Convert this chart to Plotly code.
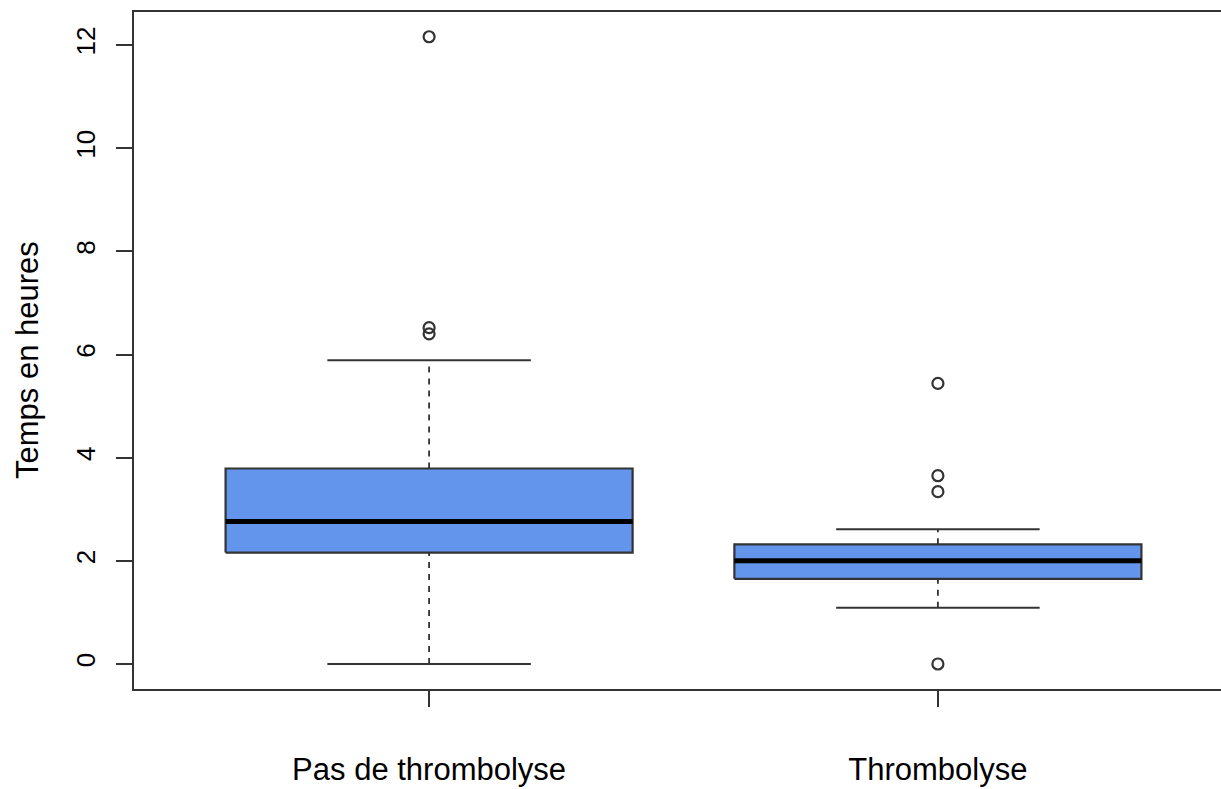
import plotly.graph_objects as go

# Summary statistics per group (hours)
groups = ["Pas de thrombolyse", "Thrombolyse"]
positions = [1, 2]
lower_whisker = [0.0, 1.09]
q1 = [2.16, 1.65]
median = [2.76, 2.0]
q3 = [3.79, 2.32]
upper_whisker = [5.89, 2.61]
outliers = [
    [6.40, 6.52, 12.16],
    [0.0, 3.34, 3.65, 5.44],
]

y_ticks = [0, 2, 4, 6, 8, 10, 12]

BOX_HALF = 0.4      # half box width in category units
CAP_HALF = 0.2      # half whisker cap width
FILL = "#6495ED"
EDGE = "#333333"
FONT = "Liberation Sans, Arial, sans-serif"

fig = go.Figure()

for i, pos in enumerate(positions):
    # dashed whiskers
    for a, b in ((q3[i], upper_whisker[i]), (lower_whisker[i], q1[i])):
        fig.add_trace(go.Scatter(
            x=[pos, pos], y=[a, b], mode="lines",
            line=dict(color=EDGE, width=1.8, dash="6px,6px"),
            hoverinfo="skip", showlegend=False))
    # whisker caps
    for w in (upper_whisker[i], lower_whisker[i]):
        fig.add_trace(go.Scatter(
            x=[pos - CAP_HALF, pos + CAP_HALF], y=[w, w], mode="lines",
            line=dict(color=EDGE, width=2),
            hoverinfo="skip", showlegend=False))
    # box body
    fig.add_trace(go.Scatter(
        x=[pos - BOX_HALF, pos + BOX_HALF, pos + BOX_HALF, pos - BOX_HALF, pos - BOX_HALF],
        y=[q1[i], q1[i], q3[i], q3[i], q1[i]],
        mode="lines", fill="toself", fillcolor=FILL,
        line=dict(color=EDGE, width=2.2),
        hoverinfo="skip", showlegend=False))
    # median
    fig.add_trace(go.Scatter(
        x=[pos - BOX_HALF, pos + BOX_HALF], y=[median[i], median[i]], mode="lines",
        line=dict(color="black", width=5),
        hoverinfo="skip", showlegend=False))
    # outliers
    fig.add_trace(go.Scatter(
        x=[pos] * len(outliers[i]), y=outliers[i], mode="markers",
        marker=dict(symbol="circle-open", size=11, color=EDGE, line=dict(width=2.2)),
        hoverinfo="y", showlegend=False))

fig.update_layout(
    width=1221, height=789,
    margin=dict(l=134, r=0, t=12, b=100),
    paper_bgcolor="white", plot_bgcolor="white",
    font=dict(family=FONT, color="black"),
)

fig.update_xaxes(
    range=[0.42, 0.42 + 1087 / 508.8],
    tickvals=positions, ticktext=groups,
    ticks="outside", ticklen=16, tickwidth=2, tickcolor=EDGE,
    tickfont=dict(size=31, family=FONT, color="black"),
    ticklabelstandoff=36,
    showline=True, linecolor=EDGE, linewidth=2.2, mirror=True,
    showgrid=False, zeroline=False,
)

fig.update_yaxes(
    range=[-0.485, 12.64],
    tickvals=y_ticks, ticktext=[str(v) for v in y_ticks],
    tickangle=-90,
    ticks="outside", ticklen=16, tickwidth=2, tickcolor=EDGE,
    tickfont=dict(size=26, family=FONT, color="black"),
    ticklabelstandoff=11,
    showline=True, linecolor=EDGE, linewidth=2.2, mirror=False,
    showgrid=False, zeroline=False,
)

fig.add_annotation(
    text="Temps en heures", textangle=-90,
    xref="paper", yref="paper",
    x=(27 - 134) / 1087, y=(789 - 100 - 360) / 677,
    xanchor="center", yanchor="middle",
    showarrow=False, font=dict(size=31, family=FONT, color="black"),
)

fig.write_html("out.html")
